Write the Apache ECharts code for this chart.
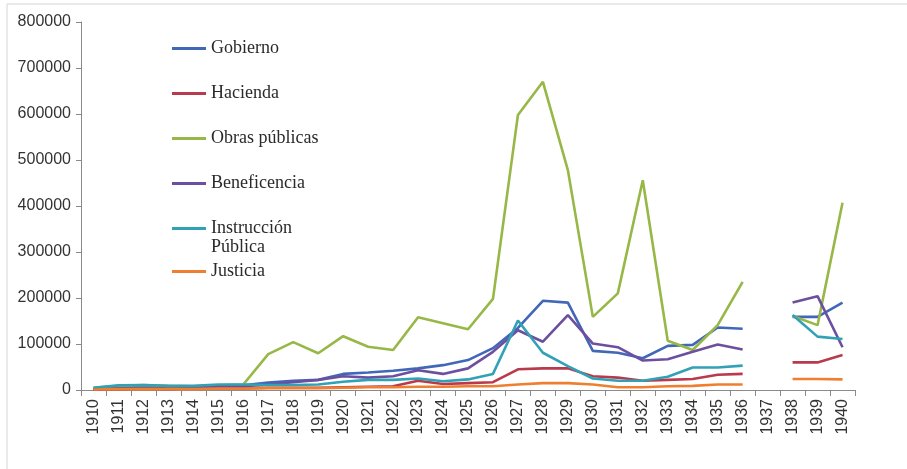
<!DOCTYPE html>
<html>
<head>
<meta charset="utf-8">
<script src="https://cdn.jsdelivr.net/npm/echarts@6/dist/echarts.min.js"></script>
<style>
html, body { margin: 0; padding: 0; background: #fff; }
#chart { width: 907px; height: 469px; }
</style>
</head>
<body>
<div id="chart"></div>
<script>
// años (1937 sin datos)
var years = ['1910', '1911', '1912', '1913', '1914', '1915', '1916', '1917', '1918', '1919',
	'1920', '1921', '1922', '1923', '1924', '1925', '1926', '1927', '1928', '1929',
	'1930', '1931', '1932', '1933', '1934', '1935', '1936', '1937', '1938', '1939', '1940'];

var seriesNames = ['Gobierno', 'Hacienda', 'Obras públicas', 'Beneficencia', 'Instrucción Pública', 'Justicia'];

var gobierno = [3000, 6000, 8000, 7000, 7000, 10000, 10000, 16000, 20000, 22000,
	35000, 38000, 42000, 47000, 54000, 65000, 91000, 135000, 194000, 190000,
	85000, 81000, 69000, 96000, 98000, 136000, 133000, '-', 159000, 159000, 190000];

var hacienda = [1000, 2000, 3000, 3000, 3000, 4000, 4000, 5000, 5000, 5000,
	6000, 7000, 8000, 20000, 13000, 15000, 17000, 45000, 47000, 47000,
	30000, 27000, 20000, 22000, 24000, 33000, 35000, '-', 60000, 60000, 76000];

var obrasPublicas = [5000, 9000, 11000, 9000, 8000, 10000, 12000, 78000, 104000, 80000,
	117000, 94000, 87000, 158000, 145000, 132000, 198000, 598000, 670000, 478000,
	159000, 210000, 456000, 107000, 87000, 141000, 235000, '-', 161000, 141000, 407000];

var beneficencia = [2000, 3000, 3000, 2000, 4000, 8000, 8000, 12000, 17000, 22000,
	30000, 27000, 30000, 43000, 35000, 47000, 83000, 130000, 105000, 163000,
	101000, 93000, 64000, 67000, 83000, 99000, 88000, '-', 190000, 204000, 93000];

var instruccion = [5000, 10000, 11000, 9000, 9000, 12000, 12000, 11000, 11000, 12000,
	18000, 22000, 22000, 25000, 19000, 23000, 35000, 151000, 81000, 52000,
	25000, 20000, 20000, 29000, 49000, 49000, 53000, '-', 163000, 116000, 111000];

var justicia = [1000, 2000, 2000, 2000, 2000, 3000, 3000, 4000, 4000, 4000,
	5000, 6000, 6000, 7000, 7000, 8000, 8000, 12000, 15000, 15000,
	12000, 6000, 6000, 8000, 9000, 12000, 12000, '-', 24000, 24000, 23000];

var seriesData = [gobierno, hacienda, obrasPublicas, beneficencia, instruccion, justicia];
var colors = ['#4168b8', '#b93a4c', '#97b746', '#6c4f9e', '#31a2b6', '#ef7f30'];
// posicion vertical de cada leyenda (la de Instrucción lleva una linea vacia arriba)
var legendTops = [39, 84, 129, 174, 200, 262];

var labelFont = 'Liberation Sans';

function initLineSeries(name, data, color) {
	return {
		name : name,
		type : 'line',
		data : data,
		symbol : 'none',
		connectNulls : false,
		lineStyle : {
			width : 2.6,
			color : color
		},
		itemStyle : {
			color : color
		}
	};
}

var series = [];
var legends = [];
for (var i = 0; i < seriesNames.length; i++) {
	series.push(initLineSeries(seriesNames[i], seriesData[i], colors[i]));
	var lg = {
		orient : 'vertical',
		left : 172,
		top : legendTops[i],
		padding : 0,
		icon : 'rect',
		itemWidth : 34,
		itemHeight : 3,
		selectedMode : false,
		data : [seriesNames[i]],
		textStyle : {
			fontFamily : 'Liberation Serif',
			fontSize : 18,
			lineHeight : 19,
			color : '#2a2a2a'
		}
	};
	if (seriesNames[i] == 'Instrucción Pública') {
		// texto en dos lineas, la primera alineada con el icono
		lg.formatter = function () {
			return ' \nInstrucción\nPública';
		};
	}
	legends.push(lg);
}

var option = {
	animation : false,
	backgroundColor : '#fff',
	grid : {
		left : 81,
		right : 52,
		top : 22,
		bottom : 79
	},
	legend : legends,
	xAxis : {
		type : 'category',
		data : years,
		boundaryGap : true,
		axisLine : {
			lineStyle : { color : '#8a8a8a', width : 1 }
		},
		axisTick : {
			show : true,
			interval : 0,
			length : 6,
			lineStyle : { color : '#8a8a8a' }
		},
		axisLabel : {
			interval : 0,
			rotate : 90,
			margin : 9,
			fontFamily : labelFont,
			fontSize : 16,
			color : '#333'
		},
		splitLine : { show : false }
	},
	yAxis : {
		type : 'value',
		min : 0,
		max : 800000,
		interval : 100000,
		axisLine : {
			show : true,
			lineStyle : { color : '#8a8a8a', width : 1 }
		},
		axisTick : {
			show : true,
			length : 5,
			lineStyle : { color : '#8a8a8a' }
		},
		axisLabel : {
			margin : 10,
			fontFamily : labelFont,
			fontSize : 16,
			color : '#333',
			formatter : function (v) {
				return String(v);
			}
		},
		splitLine : { show : false }
	},
	graphic : [{
		type : 'polyline',
		silent : true,
		shape : { points : [[7, 469], [7, 4], [907, 4]] },
		style : { stroke : '#d4d4d4', fill : null, lineWidth : 1 }
	}],
	series : series
};

var myChart = echarts.init(document.getElementById('chart'));
myChart.setOption(option, true);
</script>
</body>
</html>
